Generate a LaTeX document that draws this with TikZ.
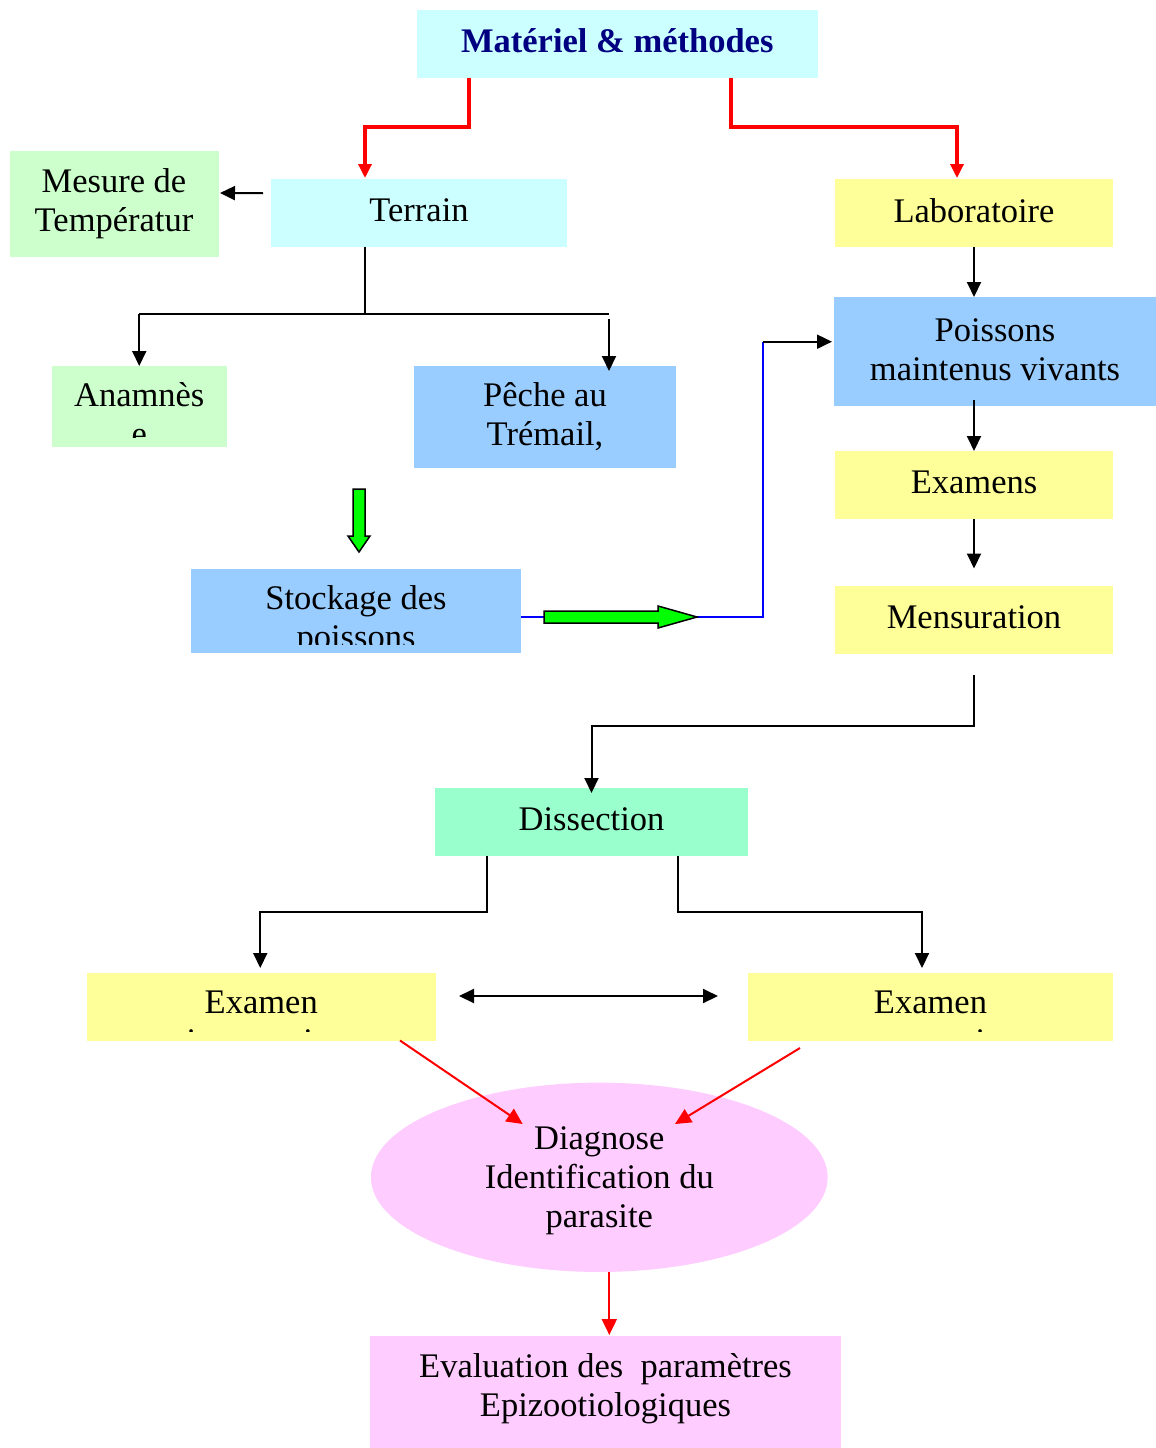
\documentclass[tikz,border=0pt]{standalone}
\usepackage{fontspec}
\setmainfont{Liberation Serif}
\usetikzlibrary{arrows.meta,shapes.geometric}
\definecolor{cyanbox}{HTML}{CCFFFF}
\definecolor{greenbox}{HTML}{CCFFCC}
\definecolor{yellowbox}{HTML}{FFFF99}
\definecolor{bluebox}{HTML}{99CCFF}
\definecolor{mintbox}{HTML}{99FFCC}
\definecolor{pinkbox}{HTML}{FFCCFF}
\definecolor{navytext}{HTML}{000080}
\definecolor{greenarrow}{HTML}{00FF00}
\definecolor{redline}{HTML}{FF0000}
\definecolor{blueline}{HTML}{0000FF}
\tikzset{
  box/.style={inner sep=0pt, outer sep=0pt, anchor=north west, draw=none},
  txt/.style={font=\fontsize{34.5}{39}\selectfont, align=center, inner sep=0pt, outer sep=0pt},
  conn/.style={-{Triangle[length=15pt,width=14pt]}, line width=2pt, black},
  connback/.style={{Triangle[length=15pt,width=14pt]}-, line width=2pt, black},
  dconn/.style={{Triangle[length=15pt,width=14pt]}-{Triangle[length=15pt,width=14pt]}, line width=2pt, black},
  plainline/.style={line width=2pt, black},
  redthick/.style={-{Triangle[length=14pt,width=13pt]}, line width=3.3pt, redline},
  redthin/.style={-{Triangle[length=16pt,width=15pt]}, line width=2pt, redline},
  bluepath/.style={line width=2pt, blueline},
  blockarrow/.style={fill=greenarrow, draw=black, line width=1.5pt, line join=miter}
}
\begin{document}
\begin{tikzpicture}[x=1pt,y=-1pt]
\fill[white] (0,0) rectangle (1156,1448);

% boxes
\node[box, fill=cyanbox, minimum width=400.5pt, minimum height=67.5pt] (title) at (417,10) {};
\node[box, fill=cyanbox, minimum width=296pt, minimum height=67.5pt] (terrain) at (271,179) {};
\node[box, fill=greenbox, minimum width=208.5pt, minimum height=106pt] (mesure) at (10,151) {};
\node[box, fill=yellowbox, minimum width=278pt, minimum height=67.5pt] (labo) at (835,179) {};
\node[box, fill=greenbox, minimum width=174.5pt, minimum height=80.5pt] (anam) at (52,366) {};
\node[box, fill=bluebox, minimum width=262pt, minimum height=102pt] (peche) at (414,366) {};
\node[box, fill=bluebox, minimum width=322pt, minimum height=108.5pt] (poissons) at (834,297) {};
\node[box, fill=yellowbox, minimum width=278pt, minimum height=67.5pt] (examens) at (835,451) {};
\node[box, fill=bluebox, minimum width=330pt, minimum height=84pt] (stock) at (191,569) {};
\node[box, fill=yellowbox, minimum width=278pt, minimum height=67.5pt] (mensur) at (835,586) {};
\node[box, fill=mintbox, minimum width=313pt, minimum height=67.5pt] (dissect) at (435,788) {};
\node[box, fill=yellowbox, minimum width=348.5pt, minimum height=67.5pt] (exl) at (87,973) {};
\node[box, fill=yellowbox, minimum width=365pt, minimum height=67.5pt] (exr) at (748,973) {};
\node[ellipse, fill=pinkbox, draw=none, inner sep=0pt, outer sep=0pt, minimum width=456.7pt, minimum height=189.3pt] (diag) at (599.3,1177.3) {};
\node[box, fill=pinkbox, minimum width=471pt, minimum height=112pt] (eval) at (370,1336) {};

% texts
\node[txt, font=\fontsize{34.5}{39}\selectfont\bfseries, text=navytext] (titleT) at (617.25,44.2) {\strut Matériel \& méthodes};
\node[txt] (terrainT) at (419,213.2) {\strut Terrain};
\node[txt] (mesureT) at (114,203.7) {\strut Mesure de\\\strut Températur};
\node[txt] (laboT) at (974,214.2) {\strut Laboratoire};
\begin{scope}
  \clip (anam.north west) rectangle ([yshift=9pt]anam.south east);
  \node[txt] (anamT) at (139.25,417.7) {\strut Anamnès\\\strut e};
\end{scope}
\node[txt] (pecheT) at (545,418.4) {\strut Pêche au\\\strut Trémail,};
\node[txt] (poissonsT) at (995,352.7) {\strut Poissons\\\strut maintenus vivants};
\node[txt] (examensT) at (974,485.2) {\strut Examens};
\begin{scope}
  \clip (stock.north west) rectangle ([yshift=9pt]stock.south east);
  \node[txt] (stockT) at (356,620.7) {\strut Stockage des\\\strut poissons};
\end{scope}
\node[txt] (mensurT) at (974,620.2) {\strut Mensuration};
\node[txt] (dissectT) at (591.5,822.2) {\strut Dissection};
\begin{scope}
  \clip (exl.north west) rectangle ([yshift=9.5pt]exl.south east);
  \node[txt] (exlT) at (261.25,1024.7) {\strut Examen\\\strut microscopique};
\end{scope}
\begin{scope}
  \clip (exr.north west) rectangle ([yshift=9.5pt]exr.south east);
  \node[txt] (exrT) at (930.5,1024.7) {\strut Examen\\\strut macroscopique};
\end{scope}
\node[txt] (diagT) at (599.3,1180.2) {\strut Diagnose\\\strut Identification du\\\strut parasite};
\node[txt] (evalT) at (605.5,1388.7) {\strut Evaluation des\ \ paramètres\\\strut Epizootiologiques};

% red top connectors
\draw[redthick] ([xshift=-148.25pt]title.south) -- ++(0,49.5) -| ([xshift=-54pt,yshift=1pt]terrain.north);
\draw[redthick] ([xshift=113.75pt]title.south) -- ++(0,49.5) -| ([xshift=-17pt,yshift=1pt]labo.north);

% terrain connectors
\draw[conn] ([xshift=-8pt,yshift=19.5pt]terrain.west) -- ([xshift=1.5pt,yshift=11pt]mesure.east);
\coordinate (tj) at (365,314);
\coordinate (tjL) at (139.25,314);
\coordinate (tjR) at (609,314);
\draw[plainline] ([xshift=-54pt]terrain.south) -- (tj);
\draw[plainline] (tjL) -- (tjR);
\draw[conn] (tjL) -- (anam.north);
\draw[conn] ([yshift=-5pt]tjR) -- ([xshift=64pt,yshift=-5pt]peche.north);

% green block arrows
\filldraw[blockarrow] (353,489) -- (365,489) -- (365,536) -- (370,536) -- (359,552) -- (348,536) -- (353,536) -- cycle;

% stockage -> poissons
\coordinate (sp) at (763,341.7);
\draw[bluepath] ([yshift=-6pt]stock.east) -| (sp);
\draw[conn] (sp) -- ([xshift=-2pt,yshift=9.55pt]poissons.west);
\filldraw[blockarrow] (544,611) -- (658,611) -- (658,606) -- (697,617) -- (658,628) -- (658,623) -- (544,623) -- cycle;

% laboratory chain
\draw[conn] (labo.south) -- (labo.south |- poissons.north);
\draw[connback] (examens.north) -- ++(0,-51);
\draw[conn] (examens.south) -- ++(0,50);
\draw[conn] ([yshift=-21.5pt]mensur.south) -- ++(0,51) -| ([yshift=-5pt]dissect.north);

% dissection
\draw[conn] ([xshift=-104.5pt]dissect.south) -- ++(0,56.5) -| ([xshift=-1pt,yshift=5pt]exl.north);
\draw[conn] ([xshift=86.5pt]dissect.south) -- ++(0,56.5) -| ([xshift=-8.5pt,yshift=5pt]exr.north);
\draw[dconn] ([xshift=23.5pt,yshift=10.75pt]exl.east) -- ([xshift=-30pt,yshift=10.75pt]exr.west);

% red bottom
\draw[redthin] ([xshift=138.75pt]exl.south) -- ([xshift=-76.6pt,yshift=53.3pt]diag.center);
\draw[redthin] ([xshift=-130.5pt,yshift=-7.5pt]exr.south) -- ([xshift=75.7pt,yshift=53.3pt]diag.center);
\draw[redthin] ([xshift=10pt]diag.south) -- ([xshift=3.8pt,yshift=1pt]eval.north);
\end{tikzpicture}
\end{document}
